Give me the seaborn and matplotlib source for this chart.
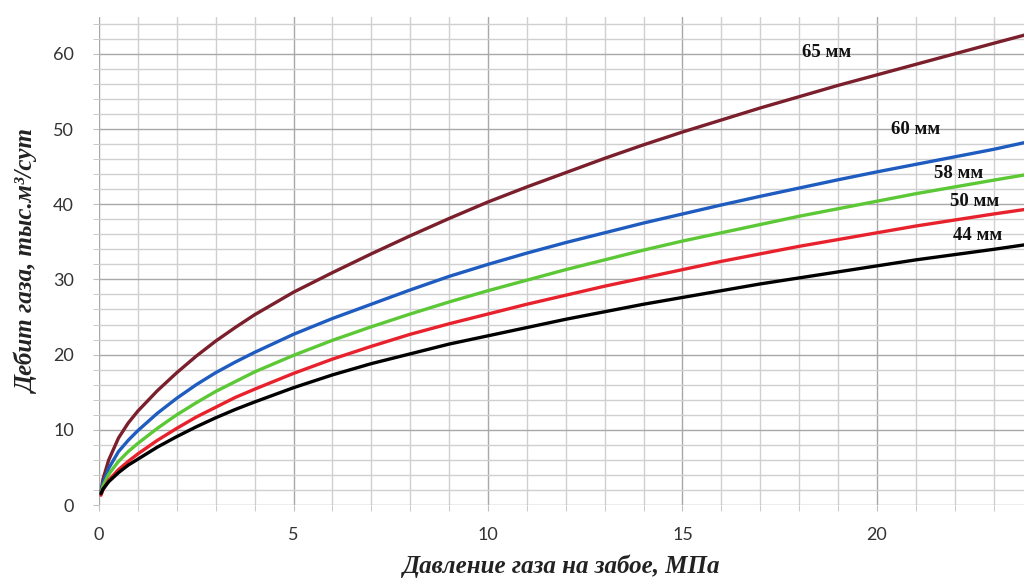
import numpy as np
import pandas as pd
import matplotlib.pyplot as plt
from matplotlib.ticker import MultipleLocator
import seaborn as sns

# pressure at the bottom hole, MPa
pressure = [0.05, 0.1, 0.25, 0.5, 0.75, 1, 1.5, 2, 2.5, 3, 3.5, 4, 5, 6, 7, 8, 9, 10,
            11, 12, 13, 14, 15, 16, 17, 18, 19, 20, 21, 22, 23, 23.8]

# gas flow rate, thousand m3/day, per choke diameter
q_65 = [1.7, 3.4, 6.0, 8.9, 10.9, 12.5, 15.2, 17.6, 19.8, 21.8, 23.6, 25.3, 28.3, 30.9,
        33.4, 35.8, 38.1, 40.3, 42.3, 44.2, 46.1, 47.9, 49.6, 51.2, 52.8, 54.3, 55.8,
        57.2, 58.6, 60.0, 61.4, 62.5]
q_60 = [1.7, 2.9, 4.9, 7.1, 8.6, 9.9, 12.2, 14.2, 16.0, 17.6, 19.0, 20.3, 22.7, 24.8,
        26.7, 28.6, 30.4, 32.0, 33.5, 34.9, 36.2, 37.5, 38.7, 39.9, 41.05, 42.15, 43.25,
        44.3, 45.3, 46.3, 47.3, 48.2]
q_58 = [1.6, 2.5, 4.1, 5.8, 7.1, 8.2, 10.2, 12.0, 13.6, 15.1, 16.4, 17.7, 19.9, 21.9,
        23.7, 25.4, 27.0, 28.5, 29.9, 31.3, 32.6, 33.9, 35.1, 36.2, 37.3, 38.4, 39.4,
        40.4, 41.4, 42.3, 43.2, 43.9]
q_50 = [1.3, 2.0, 3.3, 4.7, 5.8, 6.8, 8.6, 10.2, 11.7, 13.0, 14.3, 15.4, 17.5, 19.4,
        21.1, 22.7, 24.1, 25.4, 26.7, 27.9, 29.1, 30.2, 31.3, 32.4, 33.4, 34.4, 35.3,
        36.2, 37.1, 37.9, 38.7, 39.3]
q_44 = [1.5, 2.1, 3.1, 4.3, 5.3, 6.1, 7.7, 9.1, 10.4, 11.6, 12.7, 13.7, 15.6, 17.3,
        18.8, 20.1, 21.4, 22.5, 23.6, 24.7, 25.7, 26.7, 27.6, 28.5, 29.4, 30.2, 31.0,
        31.8, 32.6, 33.3, 34.0, 34.6]

labels = ['65 мм', '60 мм', '58 мм', '50 мм', '44 мм']
colors = ['#7a1f2b', '#1f5cc0', '#5cc836', '#e8222c', '#000000']
label_x = [18.7, 21.0, 22.1, 22.5, 22.6]
label_y = [60.2, 49.9, 44.1, 40.4, 35.8]

series = [q_65, q_60, q_58, q_50, q_44]
df = pd.concat([pd.DataFrame({'p': pressure, 'q': s, 'd': lab})
                for s, lab in zip(series, labels)], ignore_index=True)

sns.set_style('white')
plt.rcParams['font.family'] = ['Lato', 'DejaVu Sans']

fig = plt.figure(figsize=(10.24, 5.81), dpi=100)
ax = fig.add_axes([0.0967, 0.1308, 0.9033, 0.84])

sns.lineplot(data=df, x='p', y='q', hue='d', palette=colors, linewidth=2.4,
             legend=False, ax=ax, zorder=3)

ax.set_xlim(0, 23.78)
ax.set_ylim(0, 64.9)
ax.xaxis.set_major_locator(MultipleLocator(5))
ax.xaxis.set_minor_locator(MultipleLocator(1))
ax.yaxis.set_major_locator(MultipleLocator(10))
ax.yaxis.set_minor_locator(MultipleLocator(2))
ax.grid(which='major', color='#a8a8a8', linewidth=1.0)
ax.grid(which='minor', color='#d0d0d0', linewidth=1.0)
for s in ax.spines.values():
    s.set_visible(False)
ax.tick_params(which='both', direction='out', length=4, color='#c0c0c0',
               bottom=True, left=True)
ax.tick_params(axis='x', which='major', pad=12, labelsize=13, labelcolor='#333333')
ax.tick_params(axis='y', which='major', pad=14, labelsize=13, labelcolor='#333333')

for lab, x, y in zip(labels, label_x, label_y):
    ax.text(x, y, lab, ha='center', va='center', fontsize=13.5, fontweight='bold',
            family='Liberation Serif', color='#111111', zorder=4)

ax.set_xlabel('Давление газа на забое, МПа', family='Liberation Serif',
              fontsize=18, fontweight='bold', style='italic', color='#222222',
              labelpad=8)
ax.set_ylabel('Дебит газа, тыс.м³/сут', family='Liberation Serif',
              fontsize=18, fontweight='bold', style='italic', color='#222222',
              labelpad=10)

fig.savefig('out.png', dpi=100)
